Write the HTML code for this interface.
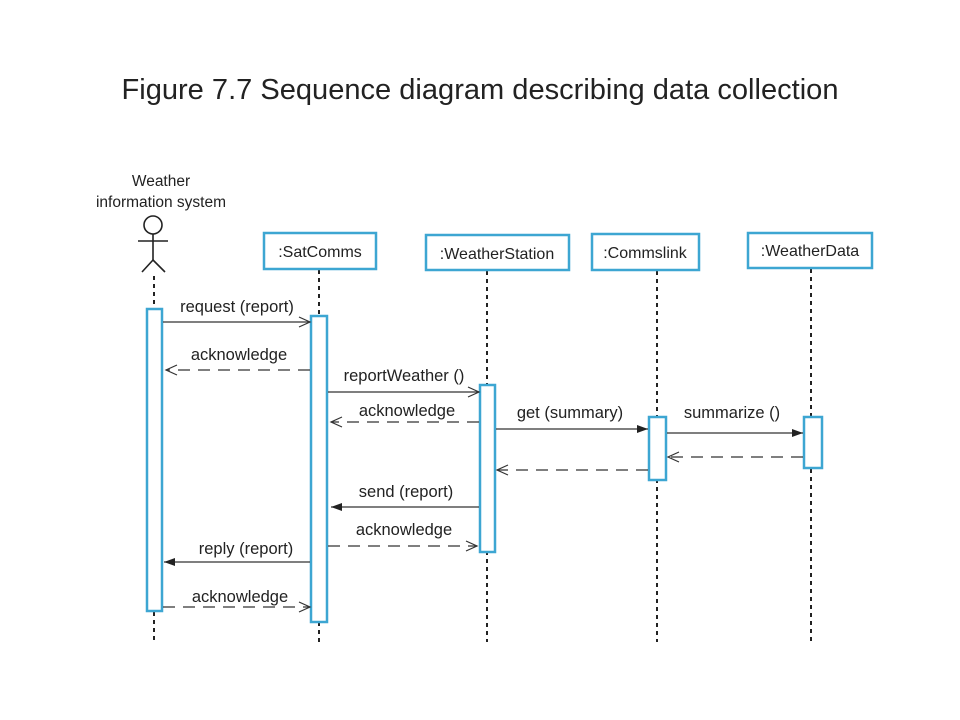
<!DOCTYPE html>
<html><head><meta charset="utf-8"><style>
html,body{margin:0;padding:0;background:#fff;}
svg{display:block;}
text{font-family:"Liberation Sans",sans-serif;fill:#222;}
</style></head><body>
<svg width="960" height="720" viewBox="0 0 960 720" xmlns="http://www.w3.org/2000/svg">
<defs>
<marker id="op" markerWidth="14" markerHeight="12" refX="12" refY="6" orient="auto" markerUnits="userSpaceOnUse"><path d="M1,1 L12,6 L1,11" fill="none" stroke="#333" stroke-width="1.2"/></marker>
<marker id="fi" markerWidth="12" markerHeight="10" refX="11" refY="5" orient="auto" markerUnits="userSpaceOnUse"><path d="M0,1 L11,5 L0,9 Z" fill="#222"/></marker>
</defs>
<text x="480" y="99" font-size="29" text-anchor="middle" textLength="717" lengthAdjust="spacingAndGlyphs">Figure 7.7  Sequence diagram describing data collection</text>
<text x="161" y="186" font-size="15.5" text-anchor="middle">Weather</text>
<text x="161" y="207" font-size="15.5" text-anchor="middle">information system</text>
<g stroke="#222" stroke-width="1.6" fill="none">
<circle cx="153" cy="225" r="9"/>
<line x1="153" y1="234" x2="153" y2="260"/>
<line x1="138" y1="241" x2="168" y2="241"/>
<line x1="153" y1="260" x2="142" y2="272"/>
<line x1="153" y1="260" x2="165" y2="272"/>
</g>
<g stroke="#222" stroke-width="2" stroke-dasharray="4,4">
<line x1="154" y1="276" x2="154" y2="642"/>
<line x1="319" y1="270" x2="319" y2="642"/>
<line x1="487" y1="271" x2="487" y2="642"/>
<line x1="657" y1="271" x2="657" y2="642"/>
<line x1="811" y1="269" x2="811" y2="642"/>
</g>
<g fill="#fff" stroke="#3da6d2" stroke-width="2.5">
<rect x="264" y="233" width="112" height="36"/>
<rect x="426" y="235" width="143" height="35"/>
<rect x="592" y="234" width="107" height="36"/>
<rect x="748" y="233" width="124" height="35"/>
<rect x="147" y="309" width="15" height="302"/>
<rect x="311" y="316" width="16" height="306"/>
<rect x="480" y="385" width="15" height="167"/>
<rect x="649" y="417" width="17" height="63"/>
<rect x="804" y="417" width="18" height="51"/>
</g>
<g font-size="16" text-anchor="middle">
<text x="320" y="257">:SatComms</text>
<text x="497" y="259">:WeatherStation</text>
<text x="645" y="258">:Commslink</text>
<text x="810" y="256">:WeatherData</text>
</g>
<g stroke="#333" stroke-width="1.3" fill="none">
<line x1="163" y1="322" x2="310" y2="322" marker-end="url(#op)"/>
<line x1="310" y1="370" x2="166" y2="370" stroke-dasharray="12,8" marker-end="url(#op)"/>
<line x1="328" y1="392" x2="479" y2="392" marker-end="url(#op)"/>
<line x1="479" y1="422" x2="331" y2="422" stroke-dasharray="12,8" marker-end="url(#op)"/>
<line x1="496" y1="429" x2="648" y2="429" marker-end="url(#fi)"/>
<line x1="667" y1="433" x2="803" y2="433" marker-end="url(#fi)"/>
<line x1="803" y1="457" x2="668" y2="457" stroke-dasharray="12,8" marker-end="url(#op)"/>
<line x1="648" y1="470" x2="497" y2="470" stroke-dasharray="12,8" marker-end="url(#op)"/>
<line x1="479" y1="507" x2="331" y2="507" marker-end="url(#fi)"/>
<line x1="328" y1="546" x2="477" y2="546" stroke-dasharray="12,8" marker-end="url(#op)"/>
<line x1="310" y1="562" x2="164" y2="562" marker-end="url(#fi)"/>
<line x1="163" y1="607" x2="310" y2="607" stroke-dasharray="12,8" marker-end="url(#op)"/>
</g>
<g font-size="16.5" text-anchor="middle">
<text x="237" y="312">request (report)</text>
<text x="239" y="360">acknowledge</text>
<text x="404" y="381">reportWeather ()</text>
<text x="407" y="416">acknowledge</text>
<text x="570" y="418">get (summary)</text>
<text x="732" y="418">summarize ()</text>
<text x="406" y="497">send (report)</text>
<text x="404" y="535">acknowledge</text>
<text x="246" y="554">reply (report)</text>
<text x="240" y="602">acknowledge</text>
</g>
</svg>
</body></html>
